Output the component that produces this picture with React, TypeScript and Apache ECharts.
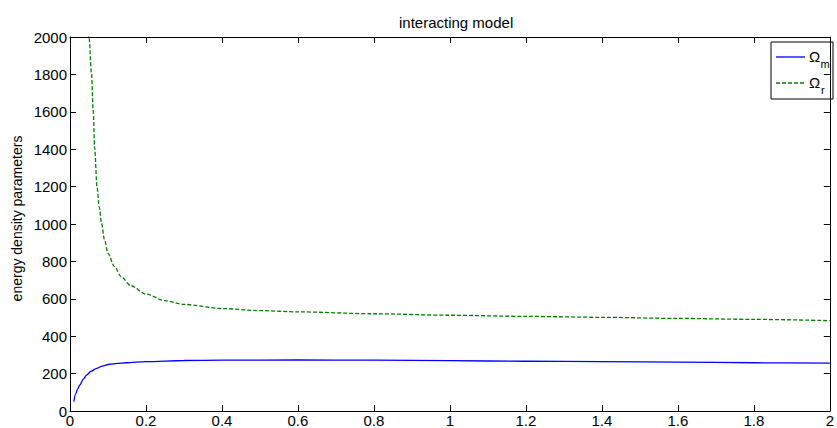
import React, { useEffect, useRef } from "react";
import * as echarts from "echarts";

const xR = [0.03, 0.04, 0.05, 0.0565, 0.061, 0.065, 0.071, 0.077, 0.083, 0.091, 0.1, 0.117, 0.135, 0.16, 0.2, 0.25, 0.3, 0.4, 0.5, 0.6, 0.8, 1.0, 1.2, 1.4, 1.6, 1.8, 2.0];
const omegaR = [3500, 2600, 2000, 1806, 1610, 1405, 1200, 1090, 1004, 914, 843, 772, 718, 670, 625, 590, 570, 548, 537, 530, 520, 512, 506, 501, 495, 490, 483];

const xM = [0.01, 0.015, 0.02, 0.026, 0.035, 0.0435, 0.055, 0.07, 0.085, 0.104, 0.125, 0.148, 0.2, 0.3, 0.4, 0.6, 0.8, 1.0, 1.2, 1.4, 1.6, 1.8, 2.0];
const omegaM = [50, 92, 118, 139, 170, 192, 212, 228, 240, 250, 255, 258, 264, 270, 272, 273, 272, 269, 266, 264, 261, 258, 256];

const TITLE = "interacting model";
const Y_NAME = "energy density parameters";

const FONT = "Liberation Sans, Arial, sans-serif";

export default function App() {
  const ref = useRef<HTMLDivElement>(null);
  useEffect(() => {
    if (!ref.current) return;
    const chart = echarts.init(ref.current, null, { renderer: "svg" });
    const axisBase = {
      axisLine: { show: true, onZero: false, lineStyle: { color: "#000", width: 1 } },
      axisTick: { show: true, inside: true, length: 6, lineStyle: { color: "#000" } },
      splitLine: { show: false },
    };
    chart.setOption({
      animation: false,
      backgroundColor: "#fff",
      textStyle: { fontFamily: FONT },
      title: {
        text: TITLE,
        left: 394,
        top: 10,
        textStyle: { fontSize: 15, fontWeight: "normal", color: "#000", fontFamily: FONT },
      },
      grid: { left: 70, right: 1, top: 37, bottom: 17, containLabel: false },
      xAxis: [
        {
          type: "value",
          min: 0,
          max: 2,
          interval: 0.2,
          position: "bottom",
          ...axisBase,
          axisLabel: { color: "#000", fontSize: 15, margin: 2, fontFamily: FONT },
        },
        {
          type: "value",
          min: 0,
          max: 2,
          interval: 0.2,
          position: "top",
          ...axisBase,
          axisLabel: { show: false },
        },
      ],
      yAxis: [
        {
          type: "value",
          min: 0,
          max: 2000,
          interval: 200,
          position: "left",
          ...axisBase,
          axisLabel: {
            color: "#000",
            fontSize: 15,
            margin: 3,
            fontFamily: FONT,
            formatter: (v: number) => String(v),
          },
        },
        {
          type: "value",
          min: 0,
          max: 2000,
          interval: 200,
          position: "right",
          ...axisBase,
          axisLabel: { show: false },
        },
      ],
      series: [
        {
          name: "Ωm",
          type: "line",
          data: xM.map((x, i) => [x, omegaM[i]]),
          showSymbol: false,
          symbol: "none",
          smooth: 0.3,
          smoothMonotone: "x",
          clip: true,
          lineStyle: { color: "#0000ff", width: 1.3 },
        },
        {
          name: "Ωr",
          type: "line",
          data: xR.map((x, i) => [x, omegaR[i]]),
          showSymbol: false,
          symbol: "none",
          smooth: 0.3,
          smoothMonotone: "x",
          clip: true,
          lineStyle: { color: "#008000", width: 1.3, type: [4, 2] },
        },
      ],
      graphic: [
        {
          type: "text",
          x: 17,
          y: 218.5,
          rotation: Math.PI / 2,
          style: {
            text: Y_NAME,
            fontSize: 14,
            fontFamily: FONT,
            fill: "#000",
            align: "center",
            verticalAlign: "middle",
          },
        },
        {
          type: "group",
          z: 100,
          children: [
            {
              type: "rect",
              shape: { x: 771, y: 42, width: 62, height: 57 },
              style: { fill: "#fff", stroke: "#000", lineWidth: 1 },
            },
            {
              type: "line",
              shape: { x1: 776, y1: 57, x2: 805, y2: 57 },
              style: { stroke: "#0000ff", lineWidth: 1.3 },
            },
            {
              type: "text",
              x: 809,
              y: 56,
              style: { text: "Ω", fontSize: 15, fontFamily: FONT, fill: "#000", verticalAlign: "middle", align: "left" },
            },
            {
              type: "text",
              x: 820.5,
              y: 64,
              style: { text: "m", fontSize: 11, fontFamily: FONT, fill: "#000", verticalAlign: "middle", align: "left" },
            },
            {
              type: "line",
              shape: { x1: 776, y1: 83, x2: 805, y2: 83 },
              style: { stroke: "#008000", lineWidth: 1.3, lineDash: [4, 2] },
            },
            {
              type: "text",
              x: 809,
              y: 82,
              style: { text: "Ω", fontSize: 15, fontFamily: FONT, fill: "#000", verticalAlign: "middle", align: "left" },
            },
            {
              type: "text",
              x: 821,
              y: 90,
              style: { text: "r", fontSize: 11, fontFamily: FONT, fill: "#000", verticalAlign: "middle", align: "left" },
            },
          ],
        },
      ],
    });
    return () => chart.dispose();
  }, []);
  return (
    <div
      ref={ref}
      style={{ position: "fixed", left: 0, top: 0, width: 837, height: 428, background: "#fff" }}
    />
  );
}
